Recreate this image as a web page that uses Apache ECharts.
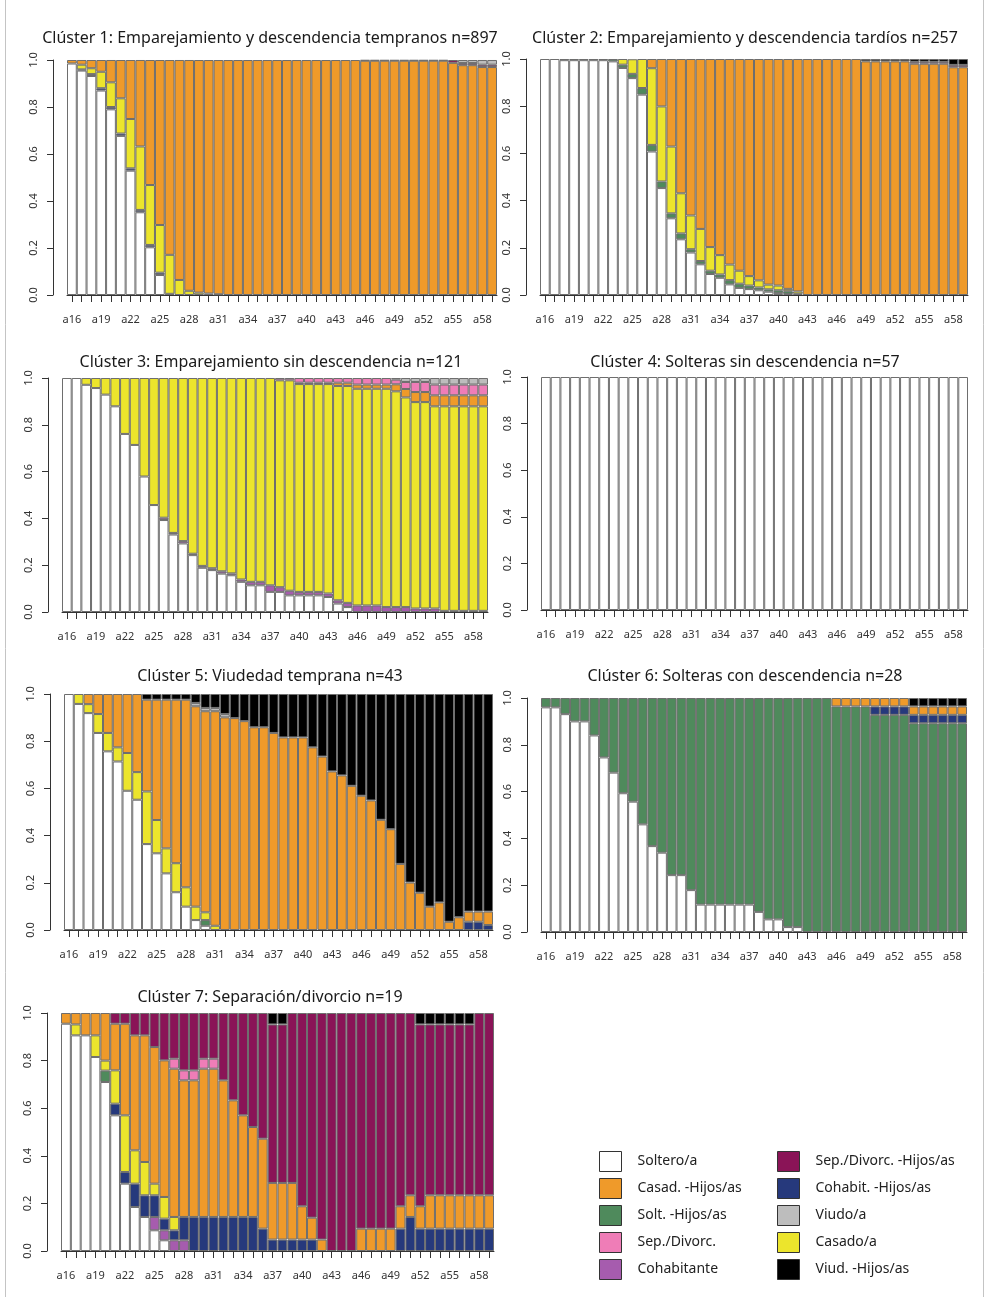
<!DOCTYPE html>
<html><head><meta charset="utf-8">
<script src="https://cdn.jsdelivr.net/npm/echarts@6/dist/echarts.min.js"></script>
<style>html,body{margin:0;padding:0;background:#fff}#c{width:985px;height:1297px}</style>
</head><body><div id="c"></div><script>
// ---- categories / states ----
const AGES = ['a16','a17','a18','a19','a20','a21','a22','a23','a24','a25','a26','a27','a28','a29','a30','a31','a32','a33','a34','a35','a36','a37','a38','a39','a40','a41','a42','a43','a44','a45','a46','a47','a48','a49','a50','a51','a52','a53','a54','a55','a56','a57','a58','a59'];
const STATE_KEYS = ['soltero','soltHijos','cohab','cohabHijos','casado','casadHijos','sepDiv','sepDivHijos','viudo','viudHijos'];
const STATE_NAMES = ['Soltero/a','Solt. -Hijos/as','Cohabitante','Cohabit. -Hijos/as','Casado/a','Casad. -Hijos/as','Sep./Divorc.','Sep./Divorc. -Hijos/as','Viudo/a','Viud. -Hijos/as'];
const STATE_COLORS = ['#ffffff','#4f8a5c','#a65cae','#26397c','#ece52c','#ef9a2a','#ef7db7','#8a1457','#bdbdbd','#000000'];
const LEGEND_COL1 = ['Soltero/a','Casad. -Hijos/as','Solt. -Hijos/as','Sep./Divorc.','Cohabitante'];
const LEGEND_COL2 = ['Sep./Divorc. -Hijos/as','Cohabit. -Hijos/as','Viudo/a','Casado/a','Viud. -Hijos/as'];
const TITLES = ['Clúster 1: Emparejamiento y descendencia tempranos n=897','Clúster 2: Emparejamiento y descendencia tardíos n=257','Clúster 3: Emparejamiento sin descendencia n=121','Clúster 4: Solteras sin descendencia n=57','Clúster 5: Viudedad temprana n=43','Clúster 6: Solteras con descendencia n=28','Clúster 7: Separación/divorcio n=19'];

// ---- Cluster 1 ----
const c1_soltero = [0.985,0.955,0.932,0.87,0.79,0.677,0.529,0.352,0.203,0.085,0,0,0,0,0,0,0,0,0,0,0,0,0,0,0,0,0,0,0,0,0,0,0,0,0,0,0,0,0,0,0,0,0,0];
const c1_cohabHijos = [0,0.005,0.008,0.01,0.01,0.01,0.01,0.01,0.01,0.01,0.005,0,0,0,0,0,0,0,0,0,0,0,0,0,0,0,0,0,0,0,0,0,0,0,0,0,0,0,0,0,0,0,0,0];
const c1_casado = [0,0.02,0.025,0.07,0.105,0.15,0.21,0.27,0.255,0.203,0.166,0.064,0.018,0.01,0.006,0.003,0,0,0,0,0,0,0,0,0,0,0,0,0,0,0,0,0,0,0,0,0,0,0,0,0,0,0,0];
const c1_casadHijos = [0.015,0.02,0.035,0.05,0.095,0.163,0.251,0.368,0.532,0.702,0.829,0.936,0.982,0.99,0.994,0.997,1,1,1,1,1,1,1,1,1,1,1,1,1,1,0.997,0.997,0.997,0.997,0.997,0.997,0.997,0.997,0.997,0.988,0.978,0.978,0.97,0.97];
const c1_sepDivHijos = [0,0,0,0,0,0,0,0,0,0,0,0,0,0,0,0,0,0,0,0,0,0,0,0,0,0,0,0,0,0,0.003,0.003,0.003,0.003,0.003,0.003,0.003,0.003,0.003,0.012,0.009,0.009,0.01,0.01];
const c1_viudo = [0,0,0,0,0,0,0,0,0,0,0,0,0,0,0,0,0,0,0,0,0,0,0,0,0,0,0,0,0,0,0,0,0,0,0,0,0,0,0,0,0.013,0.013,0.02,0.02];

// ---- Cluster 2 ----
const c2_soltero = [1,1,0.995,0.995,0.995,0.995,0.995,0.99,0.962,0.919,0.849,0.608,0.453,0.325,0.236,0.18,0.13,0.089,0.073,0.045,0.03,0.025,0.02,0.014,0.008,0.004,0,0,0,0,0,0,0,0,0,0,0,0,0,0,0,0,0,0];
const c2_soltHijos = [0,0,0.005,0.005,0.005,0.005,0.005,0.01,0.014,0.018,0.028,0.028,0.028,0.021,0.025,0.014,0.014,0.014,0.014,0.018,0.018,0.015,0.012,0.01,0.012,0.012,0.005,0,0,0,0,0,0,0,0,0,0,0,0,0,0,0,0,0];
const c2_casado = [0,0,0,0,0,0,0,0,0.024,0.062,0.123,0.325,0.318,0.283,0.17,0.143,0.136,0.1,0.082,0.066,0.055,0.04,0.03,0.02,0.02,0.01,0.01,0,0,0,0,0,0,0,0,0,0,0,0,0,0,0,0,0];
const c2_casadHijos = [0,0,0,0,0,0,0,0,0,0,0,0.039,0.201,0.371,0.569,0.663,0.72,0.797,0.831,0.871,0.897,0.92,0.938,0.956,0.96,0.974,0.985,1,1,1,1,1,1,0.99,0.99,0.99,0.99,0.99,0.98,0.98,0.98,0.98,0.965,0.965];
const c2_sepDivHijos = [0,0,0,0,0,0,0,0,0,0,0,0,0,0,0,0,0,0,0,0,0,0,0,0,0,0,0,0,0,0,0,0,0,0,0,0,0,0,0.008,0.008,0.008,0.008,0.01,0.01];
const c2_viudHijos = [0,0,0,0,0,0,0,0,0,0,0,0,0,0,0,0,0,0,0,0,0,0,0,0,0,0,0,0,0,0,0,0,0,0.01,0.01,0.01,0.01,0.01,0.012,0.012,0.012,0.012,0.025,0.025];

// ---- Cluster 3 ----
const c3_soltero = [1,1,0.971,0.957,0.929,0.879,0.761,0.714,0.579,0.457,0.393,0.331,0.293,0.243,0.189,0.179,0.164,0.157,0.129,0.114,0.114,0.086,0.086,0.071,0.071,0.071,0.071,0.064,0.036,0.021,0,0,0,0,0,0,0,0,0,0,0,0,0,0];
const c3_cohab = [0,0,0,0,0,0,0,0,0,0,0.01,0.007,0.01,0.006,0.008,0.008,0.01,0.008,0.01,0.015,0.015,0.028,0.02,0.02,0.015,0.015,0.015,0.015,0.014,0.018,0.028,0.028,0.028,0.021,0.021,0.021,0.015,0.015,0.015,0.005,0.005,0.005,0.005,0.005];
const c3_casado = [0,0,0.029,0.043,0.071,0.121,0.239,0.286,0.421,0.543,0.597,0.662,0.697,0.751,0.803,0.813,0.826,0.835,0.861,0.871,0.871,0.886,0.884,0.899,0.888,0.888,0.888,0.895,0.916,0.927,0.926,0.926,0.926,0.933,0.922,0.896,0.882,0.882,0.864,0.874,0.874,0.874,0.874,0.874];
const c3_casadHijos = [0,0,0,0,0,0,0,0,0,0,0,0,0,0,0,0,0,0,0,0,0,0,0,0,0.006,0.006,0.006,0.006,0.014,0.014,0.018,0.018,0.018,0.018,0.03,0.036,0.043,0.043,0.047,0.047,0.047,0.047,0.047,0.047];
const c3_sepDiv = [0,0,0,0,0,0,0,0,0,0,0,0,0,0,0,0,0,0,0,0,0,0,0.01,0.01,0.02,0.02,0.02,0.02,0.02,0.02,0.028,0.028,0.028,0.028,0.02,0.03,0.043,0.043,0.046,0.046,0.046,0.046,0.046,0.046];
const c3_viudo = [0,0,0,0,0,0,0,0,0,0,0,0,0,0,0,0,0,0,0,0,0,0,0,0,0,0,0,0,0,0,0,0,0,0,0.007,0.017,0.017,0.017,0.028,0.028,0.028,0.028,0.028,0.028];

// ---- Cluster 4 ----
const c4_soltero = [1,1,1,1,1,1,1,1,1,1,1,1,1,1,1,1,1,1,1,1,1,1,1,1,1,1,1,1,1,1,1,1,1,1,1,1,1,1,1,1,1,1,1,1];

// ---- Cluster 5 ----
const c5_soltero = [1,0.958,0.919,0.835,0.757,0.714,0.59,0.552,0.364,0.325,0.24,0.16,0.099,0.042,0.018,0,0,0,0,0,0,0,0,0,0,0,0,0,0,0,0,0,0,0,0,0,0,0,0,0,0,0,0,0];
const c5_soltHijos = [0,0,0,0,0,0,0,0,0,0,0,0,0,0,0.024,0,0,0,0,0,0,0,0,0,0,0,0,0,0,0,0,0,0,0,0,0,0,0,0,0,0,0,0,0];
const c5_cohabHijos = [0,0,0,0,0,0,0,0,0,0,0,0,0,0,0,0,0,0,0,0,0,0,0,0,0,0,0,0,0,0,0,0,0,0,0,0,0,0,0,0,0,0.035,0.035,0.021];
const c5_casado = [0,0.042,0.038,0.08,0.078,0.06,0.16,0.117,0.223,0.141,0.106,0.123,0.082,0.057,0.033,0.018,0,0,0,0,0,0,0,0,0,0,0,0,0,0,0,0,0,0,0,0,0,0,0,0,0,0,0,0];
const c5_casadHijos = [0,0,0.043,0.085,0.165,0.226,0.25,0.331,0.389,0.51,0.63,0.693,0.795,0.849,0.852,0.909,0.901,0.898,0.885,0.859,0.859,0.835,0.816,0.816,0.816,0.774,0.735,0.672,0.655,0.611,0.569,0.549,0.467,0.427,0.28,0.201,0.158,0.099,0.117,0.035,0.054,0.043,0.043,0.057];
const c5_viudo = [0,0,0,0,0,0,0,0,0,0,0,0,0,0.014,0.014,0.014,0.014,0,0,0,0,0,0,0,0,0,0,0,0,0,0,0,0,0,0,0,0,0,0,0,0,0,0,0];
const c5_viudHijos = [0,0,0,0,0,0,0,0,0.024,0.024,0.024,0.024,0.024,0.038,0.059,0.059,0.085,0.102,0.115,0.141,0.141,0.165,0.184,0.184,0.184,0.226,0.265,0.328,0.345,0.389,0.431,0.451,0.533,0.573,0.72,0.799,0.842,0.901,0.883,0.965,0.946,0.922,0.922,0.922];

// ---- Cluster 6 ----
const c6_soltero = [0.96,0.96,0.931,0.9,0.9,0.84,0.746,0.681,0.593,0.557,0.46,0.367,0.339,0.243,0.243,0.179,0.117,0.117,0.117,0.117,0.117,0.117,0.086,0.054,0.054,0.021,0.021,0,0,0,0,0,0,0,0,0,0,0,0,0,0,0,0,0];
const c6_soltHijos = [0.04,0.04,0.069,0.1,0.1,0.16,0.254,0.319,0.407,0.443,0.54,0.633,0.661,0.757,0.757,0.821,0.883,0.883,0.883,0.883,0.883,0.883,0.914,0.946,0.946,0.979,0.979,1,1,1,0.964,0.964,0.964,0.964,0.928,0.928,0.928,0.928,0.892,0.892,0.892,0.892,0.892,0.892];
const c6_cohabHijos = [0,0,0,0,0,0,0,0,0,0,0,0,0,0,0,0,0,0,0,0,0,0,0,0,0,0,0,0,0,0,0,0,0,0,0.036,0.036,0.036,0.036,0.036,0.036,0.036,0.036,0.036,0.036];
const c6_casadHijos = [0,0,0,0,0,0,0,0,0,0,0,0,0,0,0,0,0,0,0,0,0,0,0,0,0,0,0,0,0,0,0.036,0.036,0.036,0.036,0.036,0.036,0.036,0.036,0.036,0.036,0.036,0.036,0.036,0.036];
const c6_viudHijos = [0,0,0,0,0,0,0,0,0,0,0,0,0,0,0,0,0,0,0,0,0,0,0,0,0,0,0,0,0,0,0,0,0,0,0,0,0,0,0.036,0.036,0.036,0.036,0.036,0.036];

// ---- Cluster 7 ----
const c7_soltero = [0.955,0.906,0.906,0.815,0.71,0.57,0.283,0.185,0.143,0.087,0.045,0,0,0,0,0,0,0,0,0,0,0,0,0,0,0,0,0,0,0,0,0,0,0,0,0,0,0,0,0,0,0,0,0];
const c7_soltHijos = [0,0,0,0,0.048,0,0,0,0,0,0,0,0,0,0,0,0,0,0,0,0,0,0,0,0,0,0,0,0,0,0,0,0,0,0,0,0,0,0,0,0,0,0,0];
const c7_cohab = [0,0,0,0,0,0,0,0,0,0.056,0.042,0.045,0.045,0,0,0,0,0,0,0,0,0,0,0,0,0,0,0,0,0,0,0,0,0,0,0,0,0,0,0,0,0,0,0];
const c7_cohabHijos = [0,0,0,0,0,0.049,0.049,0.098,0.091,0.091,0.049,0.042,0.098,0.143,0.143,0.143,0.143,0.143,0.143,0.143,0.094,0.048,0.048,0.048,0.048,0.048,0,0,0,0,0,0,0,0,0.094,0.143,0.094,0.094,0.094,0.094,0.094,0.094,0.094,0.094];
const c7_casado = [0,0.046,0,0.091,0.042,0.14,0.238,0.14,0.14,0.049,0.091,0.056,0,0,0,0,0,0,0,0,0,0,0,0,0,0,0,0,0,0,0,0,0,0,0,0,0,0,0,0,0,0,0,0];
const c7_casadHijos = [0.045,0.048,0.094,0.094,0.2,0.196,0.385,0.483,0.532,0.574,0.574,0.623,0.574,0.574,0.623,0.623,0.574,0.49,0.427,0.378,0.378,0.238,0.238,0.238,0.14,0.092,0.048,0,0,0,0.094,0.094,0.094,0.094,0.094,0.091,0.094,0.14,0.14,0.14,0.14,0.14,0.14,0.14];
const c7_sepDiv = [0,0,0,0,0,0,0,0,0,0,0,0.042,0.042,0.042,0.042,0.042,0,0,0,0,0,0,0,0,0,0,0,0,0,0,0,0,0,0,0,0,0,0,0,0,0,0,0,0];
const c7_sepDivHijos = [0,0,0,0,0,0.045,0.045,0.094,0.094,0.143,0.199,0.192,0.241,0.241,0.192,0.192,0.283,0.367,0.43,0.479,0.528,0.666,0.666,0.714,0.812,0.86,0.952,1,1,1,0.906,0.906,0.906,0.906,0.812,0.766,0.764,0.718,0.718,0.718,0.718,0.718,0.766,0.766];
const c7_viudHijos = [0,0,0,0,0,0,0,0,0,0,0,0,0,0,0,0,0,0,0,0,0,0.048,0.048,0,0,0,0,0,0,0,0,0,0,0,0,0,0.048,0.048,0.048,0.048,0.048,0.048,0,0];

// ---- table built from the arrays ----
const CLUSTER_DATA = [
  {soltero:c1_soltero, cohabHijos:c1_cohabHijos, casado:c1_casado, casadHijos:c1_casadHijos, sepDivHijos:c1_sepDivHijos, viudo:c1_viudo},
  {soltero:c2_soltero, soltHijos:c2_soltHijos, casado:c2_casado, casadHijos:c2_casadHijos, sepDivHijos:c2_sepDivHijos, viudHijos:c2_viudHijos},
  {soltero:c3_soltero, cohab:c3_cohab, casado:c3_casado, casadHijos:c3_casadHijos, sepDiv:c3_sepDiv, viudo:c3_viudo},
  {soltero:c4_soltero},
  {soltero:c5_soltero, soltHijos:c5_soltHijos, cohabHijos:c5_cohabHijos, casado:c5_casado, casadHijos:c5_casadHijos, viudo:c5_viudo, viudHijos:c5_viudHijos},
  {soltero:c6_soltero, soltHijos:c6_soltHijos, cohabHijos:c6_cohabHijos, casadHijos:c6_casadHijos, viudHijos:c6_viudHijos},
  {soltero:c7_soltero, soltHijos:c7_soltHijos, cohab:c7_cohab, cohabHijos:c7_cohabHijos, casado:c7_casado, casadHijos:c7_casadHijos, sepDiv:c7_sepDiv, sepDivHijos:c7_sepDivHijos, viudHijos:c7_viudHijos}
];

// layout (plot areas) and title centres
const GRIDS = [
  {left:67, top:60, width:430, height:235},
  {left:540, top:59, width:428, height:236},
  {left:62, top:378, width:426, height:234},
  {left:541, top:377, width:427, height:233},
  {left:64, top:694, width:429, height:236},
  {left:541, top:698, width:426, height:234},
  {left:61, top:1013, width:433, height:238}
];
const TITLE_POS = [[270,38],[745,38],[271,362],[745,362],[270,676],[745,676],[270,997]];

const FONT = '"Noto Sans", "Open Sans", sans-serif';
const chart = echarts.init(document.getElementById('c'), null, {renderer:'canvas'});

const grid = [], xAxis = [], yAxis = [], series = [], graphic = [];
GRIDS.forEach((g, k) => {
  grid.push(Object.assign({containLabel:false}, g));
  xAxis.push({
    type:'category', gridIndex:k, data:AGES, offset:4,
    axisLine:{show:true, lineStyle:{color:'#333', width:1}},
    axisTick:{show:true, interval:0, alignWithLabel:true, length:7, lineStyle:{color:'#333'}},
    axisLabel:{interval:2, fontSize:11, color:'#333', margin:15, fontFamily:FONT},
    splitLine:{show:false}
  });
  yAxis.push({
    type:'value', gridIndex:k, min:0, max:1, interval:0.2, offset:14,
    axisLine:{show:true, lineStyle:{color:'#333', width:1}},
    axisTick:{show:true, length:6, lineStyle:{color:'#333'}},
    axisLabel:{rotate:90, fontSize:11, color:'#333', margin:14, fontFamily:FONT, formatter:v => v.toFixed(1)},
    splitLine:{show:false}
  });
  const d = CLUSTER_DATA[k];
  STATE_KEYS.forEach((key, s) => {
    if (!d[key]) return;
    series.push({
      type:'bar', name:STATE_NAMES[s], stack:'c'+k, xAxisIndex:k, yAxisIndex:k,
      barCategoryGap:'0%', barGap:'0%', silent:true, animation:false,
      itemStyle:{color:STATE_COLORS[s], borderColor:'#6e6e6e', borderWidth:1},
      data:d[key].map(v => v > 0 ? v : null)
    });
  });
  graphic.push({type:'text', x:TITLE_POS[k][0], y:TITLE_POS[k][1],
    style:{text:TITLES[k], textAlign:'center', textVerticalAlign:'middle', font:'16px ' + FONT, fill:'#1a1a1a'}});
});
// page frame lines (figure box edges)
graphic.push({type:'line', shape:{x1:5.5, y1:0, x2:5.5, y2:1297}, style:{stroke:'#c4c4c4', lineWidth:1}});
graphic.push({type:'line', shape:{x1:983.5, y1:0, x2:983.5, y2:1297}, style:{stroke:'#c4c4c4', lineWidth:1}});

// legend colours
const legendData = (names) => names.map(n => ({name:n, itemStyle:{color:STATE_COLORS[STATE_NAMES.indexOf(n)], borderColor:'#333', borderWidth:1}}));
const legendBase = {orient:'vertical', itemWidth:22, itemHeight:20, itemGap:6, padding:0, selectedMode:false,
  icon:'rect', textStyle:{fontSize:14, color:'#222', fontFamily:FONT, padding:[0,0,0,11]}};

chart.setOption({
  backgroundColor:'#ffffff',
  animation:false,
  grid, xAxis, yAxis, series,
  legend:[
    Object.assign({left:599, top:1151, data:legendData(LEGEND_COL1)}, legendBase),
    Object.assign({left:777, top:1151, data:legendData(LEGEND_COL2)}, legendBase)
  ],
  graphic
});
</script></body></html>
